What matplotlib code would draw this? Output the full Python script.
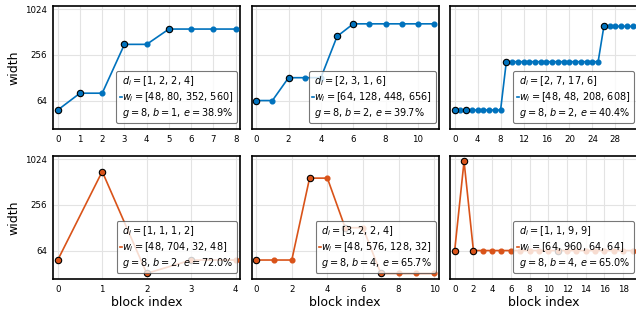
import numpy as np
import matplotlib
matplotlib.use('Agg')
import matplotlib.pyplot as plt
from matplotlib.ticker import FixedLocator, MultipleLocator, NullLocator

# stage depths / widths for each sampled network
depths = [[1, 2, 2, 4], [2, 3, 1, 6], [2, 7, 17, 6],
          [1, 1, 1, 2], [3, 2, 2, 4], [1, 1, 9, 9]]
widths = [[48, 80, 352, 560], [64, 128, 448, 656], [48, 48, 208, 608],
          [48, 704, 32, 48], [48, 576, 128, 32], [64, 960, 64, 64]]
g_vals = [8, 8, 8, 8, 8, 8]
b_vals = [1, 2, 2, 2, 4, 4]
e_vals = [38.9, 39.7, 40.4, 72.0, 65.7, 65.0]
x_steps = [1, 2, 4, 1, 2, 2]
colors = ['#0072BD'] * 3 + ['#D95319'] * 3

plt.rc('font', family='DejaVu Sans')
fig, axs = plt.subplots(2, 3, figsize=(6.36, 3.09), dpi=100, sharey=True)
fig.subplots_adjust(left=0.0838, right=1.0016, bottom=0.0971, top=0.9816,
                    wspace=0.0626, hspace=0.2165)

for k, ax in enumerate(axs.flat):
    d, w, c = depths[k], widths[k], colors[k]
    ws = np.repeat(w, d)
    xs = np.arange(len(ws))
    starts = np.concatenate([[0], np.cumsum(d)[:-1]])
    ax.plot(xs, ws, '-o', color=c, lw=1.2, ms=3.4, zorder=3)
    ax.plot(starts, np.array(w), 'o', color=c, ms=4.6, mec='k', mew=0.8,
            zorder=4)
    ax.set_yscale('log', base=2)
    ax.yaxis.set_major_locator(FixedLocator([64, 256, 1024]))
    ax.yaxis.set_minor_locator(NullLocator())
    ax.yaxis.set_major_formatter(plt.FuncFormatter(lambda v, p: '%d' % v))
    ax.xaxis.set_major_locator(MultipleLocator(x_steps[k]))
    ax.margins(x=0.025)
    ax.grid(True, color='#e3e3e3', lw=0.8, zorder=0)
    ax.set_axisbelow(True)
    ax.tick_params(length=0, labelsize=6.2, pad=4.5)
    for s in ax.spines.values():
        s.set_color('k'); s.set_linewidth(1.2)
    label = ('$d_i = $[' + ', '.join(map(str, d)) + ']\n'
             '$w_i = $[' + ', '.join(map(str, w)) + ']\n'
             '$g = %d$, $b = %d$, $e = %.1f$%%' % (g_vals[k], b_vals[k], e_vals[k]))
    h = plt.Line2D([], [], color=c, lw=1.2)
    leg = ax.legend([h], [label], loc='lower right', bbox_to_anchor=(1, 0.025),
                    fontsize=7, handlelength=0.25, handletextpad=0.0,
                    borderaxespad=0.3, borderpad=0.35, labelspacing=0.2,
                    framealpha=0.8, edgecolor='#555555')
    leg.set_zorder(5)
    leg.get_frame().set_linewidth(0.8)

for ax in axs[:, 0]:
    ax.set_ylabel('width', fontsize=9, labelpad=3)
for ax in axs[1, :]:
    ax.set_xlabel('block index', fontsize=9, labelpad=1)

plt.savefig('out.png', dpi=100)
